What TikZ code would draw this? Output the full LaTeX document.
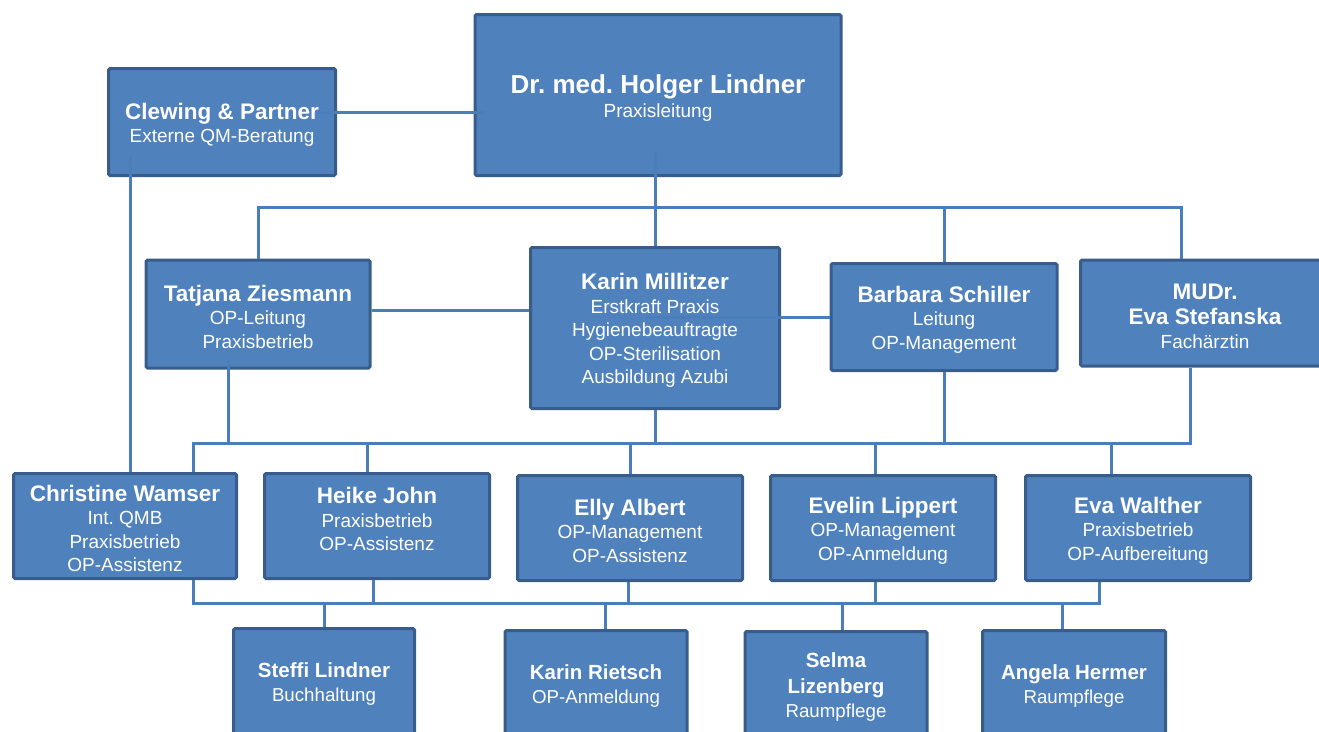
\documentclass[tikz,border=0pt]{standalone}
\usepackage{fontspec}
\setmainfont{Liberation Sans}
\frenchspacing
\definecolor{boxblue}{RGB}{79,129,189}
\definecolor{boxline}{RGB}{56,93,138}
\definecolor{linkblue}{RGB}{74,126,187}
\newcommand\who[2][22.5]{{\bfseries\fontsize{#1}{#1}\selectfont\rule{0pt}{0.96em}#2}}
\begin{document}
\begin{tikzpicture}[x=1pt,y=-1pt,
	box/.style={draw=boxline,fill=boxblue,line width=3pt,text=white,align=center,inner sep=0pt,rounded corners=1.5pt},
	wide/.style={box,font=\fontsize{19}{23.5}\selectfont},
	low/.style={box,font=\fontsize{18.7}{24}\selectfont},
	link/.style={draw=linkblue,line width=3pt}]
	\useasboundingbox (0,0) rectangle (1319,731);
	\clip (0,0) rectangle (1319,731);
	\node[wide,minimum width=227,minimum height=107] (1) at (222,122) {\who{Clewing \& Partner}\\Externe QM-Beratung};
	\node[wide,minimum width=366,minimum height=161] (2) at (658,95) {\who[26]{Dr. med. Holger Lindner}\\[1pt]Praxisleitung};
	\node[wide,minimum width=224,minimum height=108] (3) at (258,314) {\who{Tatjana Ziesmann}\\OP-Leitung\\Praxisbetrieb};
	\node[wide,minimum width=249,minimum height=161] (4) at (655,328) {\who{Karin Millitzer}\\Erstkraft Praxis\\Hygienebeauftragte\\OP-Sterilisation\\Ausbildung Azubi};
	\node[wide,minimum width=226,minimum height=107] (5) at (944,317) {\who{Barbara Schiller}\\Leitung\\OP-Management};
	\node[wide,minimum width=249,minimum height=106] (6) at (1205,313) {\who{MUDr.}\\[2pt]\who{Eva Stefanska}\\Fachärztin};
	\node[wide,minimum width=223,minimum height=105] (7) at (125,526) {\who{Christine Wamser}\\Int. QMB\\Praxisbetrieb\\OP-Assistenz};
	\node[wide,minimum width=225,minimum height=105,text depth=19pt] (8) at (377,526) {\who{Heike John}\\Praxisbetrieb\\OP-Assistenz};
	\node[wide,minimum width=225,minimum height=105] (9) at (630,528) {\who{Elly Albert}\\OP-Management\\OP-Assistenz};
	\node[wide,minimum width=225,minimum height=105] (10) at (883,528) {\who{Evelin Lippert}\\OP-Management\\OP-Anmeldung};
	\node[wide,minimum width=225,minimum height=105] (11) at (1138,528) {\who{Eva Walther}\\Praxisbetrieb\\OP-Aufbereitung};
	\node[low,minimum width=181,minimum height=107] (12) at (324,682) {\who[20.5]{Steffi Lindner}\\Buchhaltung};
	\node[low,minimum width=182,minimum height=107] (13) at (596,684) {\who[20.5]{Karin Rietsch}\\OP-Anmeldung};
	\node[low,minimum width=182,minimum height=107] (14) at (836,685) {\who[20.5]{Selma}\\[2pt]\who[20.5]{Lizenberg}\\Raumpflege};
	\node[low,minimum width=183,minimum height=107] (15) at (1074,684) {\who[20.5]{Angela Hermer}\\Raumpflege};
	\coordinate (b1) at (1181,207);
	\coordinate (b2) at (193,443);
	\coordinate (b3) at (193,603);
	\draw[link,shorten <=-19pt,shorten >=-11pt] (1.east |- 0,112) -- (2.west |- 0,112);
	\draw[link,shorten <=-24pt] (4.north |- 2.south) -- (4.north);
	\draw[link] (3.north) |- (b1) -- (b1 |- 6.north);
	\draw[link] (5.north) -- (5.north |- b1);
	\draw[link,shorten <=-20pt] (1.south -| 130,0) -- (7.north -| 130,0);
	\draw[link] (3.east |- 0,310) -- (4.west |- 0,310);
	\draw[link,shorten <=-135pt] (4.east |- 5.west) -- (5.west);
	\draw[link] (7.north -| b2) -- (b2) -- (b2 -| 1190,0) -- (6.south -| 1190,0);
	\draw[link,shorten <=-10pt] (3.south -| 228,0) -- (b2 -| 228,0);
	\draw[link] (4.south) -- (4.south |- b2);
	\draw[link] (5.south) -- (5.south |- b2);
	\draw[link] (b2 -| 367,0) -- (8.north -| 367,0);
	\draw[link] (9.north |- b2) -- (9.north);
	\draw[link] (b2 -| 875,0) -- (10.north -| 875,0);
	\draw[link] (b2 -| 1111,0) -- (11.north -| 1111,0);
	\draw[link] (7.south -| b3) -- (b3) -- (b3 -| 1099,0) -- (11.south -| 1099,0);
	\draw[link] (8.south -| 373,0) -- (b3 -| 373,0);
	\draw[link] (9.south -| 628,0) -- (b3 -| 628,0);
	\draw[link] (10.south -| 875,0) -- (b3 -| 875,0);
	\draw[link] (b3 -| 12.north) -- (12.north);
	\draw[link] (b3 -| 605,0) -- (13.north -| 605,0);
	\draw[link] (b3 -| 842,0) -- (14.north -| 842,0);
	\draw[link] (b3 -| 1062,0) -- (15.north -| 1062,0);
\end{tikzpicture}
\end{document}
